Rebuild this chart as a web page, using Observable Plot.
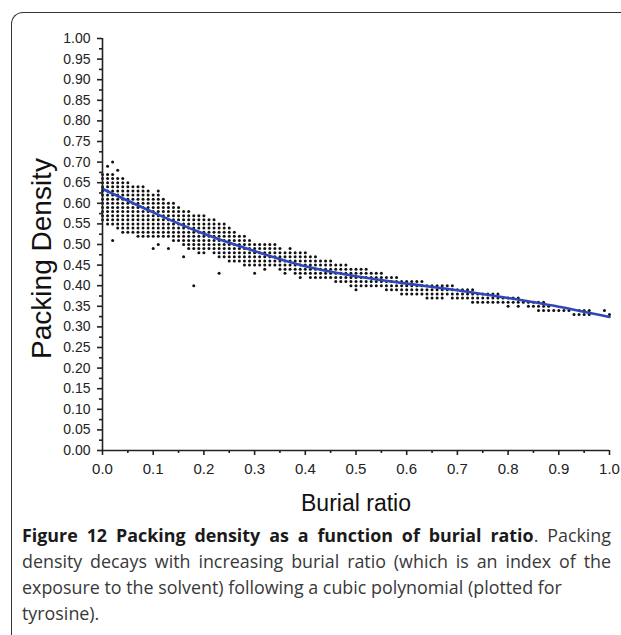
<!DOCTYPE html>
<html>
<head>
<meta charset="utf-8">
<script src="https://cdn.jsdelivr.net/npm/d3@7"></script>
<script src="https://cdn.jsdelivr.net/npm/@observablehq/plot@0.6"></script>
<style>
  html, body { margin: 0; padding: 0; background: #fff; }
  body { width: 621px; height: 635px; position: relative; overflow: hidden; }
  #frame { position: absolute; left: 11px; top: 12px; width: 640px; height: 660px;
           border-top: 1.6px solid #333; border-left: 1.6px solid #333; border-top-left-radius: 12px; }
  #chart { position: absolute; left: 0; top: 0; }
  #caption { position: absolute; left: 22px; top: 522px; font-family: "Open Sans", sans-serif; color: #383838; }
  #caption div { line-height: 26px; white-space: nowrap; }
  #caption b { color: #1a1a1a; }
</style>
</head>
<body>
<div id="frame"></div>
<div id="chart"></div>
<div id="caption">
  <div class="ln"><b>Figure 12 Packing density as a function of burial ratio</b>. Packing</div>
  <div class="ln">density decays with increasing burial ratio (which is an index of the</div>
  <div class="ln">exposure to the solvent) following a cubic polynomial (plotted for</div>
  <div class="ln">tyrosine).</div>
</div>
<script>
// Burial ratio columns (x) and the top / bottom packing density read for each column
const colX = [0.00,0.01,0.02,0.03,0.04,0.05,0.06,0.07,0.08,0.09,
  0.10,0.11,0.12,0.13,0.14,0.15,0.16,0.17,0.18,0.19,
  0.20,0.21,0.22,0.23,0.24,0.25,0.26,0.27,0.28,0.29,
  0.30,0.31,0.32,0.33,0.34,0.35,0.36,0.37,0.38,0.39,
  0.40,0.41,0.42,0.43,0.44,0.45,0.46,0.47,0.48,0.49,
  0.50,0.51,0.52,0.53,0.54,0.55,0.56,0.57,0.58,0.59,
  0.60,0.61,0.62,0.63,0.64,0.65,0.66,0.67,0.68,0.69,
  0.70,0.71,0.72,0.73,0.74,0.75,0.76,0.77,0.78,0.79,
  0.80,0.81,0.82,0.83,0.84,0.85,0.86,0.87,0.88,0.89,
  0.90,0.91,0.92,0.93,0.94,0.95,0.96,0.97,0.98,0.99,1.00];
const colTop = [0.67,0.67,0.67,0.66,0.66,0.65,0.64,0.64,0.64,0.63,
  0.62,0.62,0.61,0.60,0.60,0.59,0.58,0.58,0.57,0.57,
  0.57,0.56,0.56,0.55,0.55,0.54,0.53,0.52,0.52,0.51,
  0.50,0.50,0.50,0.50,0.50,0.49,0.48,0.49,0.48,0.48,
  0.48,0.47,0.47,0.46,0.46,0.46,0.45,0.45,0.45,0.44,
  0.44,0.44,0.44,0.43,0.43,0.43,0.42,0.42,0.42,0.41,
  0.41,0.41,0.41,0.41,0.40,0.40,0.40,0.40,0.40,0.40,
  0.39,0.39,0.39,0.39,0.38,0.38,0.38,0.38,0.38,0.37,
  0.37,0.37,0.37,0.36,0.36,0.36,0.36,0.36,0.35,0.34,
  0.34,0.34,0.34,0.33,0.34,0.34,0.34,null,null,0.34,0.33];
const colBottom = [0.56,0.55,0.55,0.54,0.53,0.53,0.53,0.52,0.52,0.52,
  0.52,0.52,0.52,0.52,0.51,0.51,0.50,0.49,0.49,0.48,
  0.48,0.49,0.48,0.47,0.47,0.46,0.46,0.46,0.45,0.45,
  0.45,0.45,0.44,0.45,0.45,0.44,0.43,0.44,0.43,0.42,
  0.43,0.42,0.42,0.42,0.42,0.42,0.41,0.41,0.41,0.40,
  0.40,0.40,0.40,0.40,0.40,0.40,0.39,0.39,0.39,0.38,
  0.38,0.38,0.38,0.38,0.38,0.37,0.37,0.37,0.38,0.37,
  0.37,0.37,0.37,0.36,0.36,0.36,0.36,0.36,0.36,0.36,
  0.35,0.36,0.35,0.36,0.35,0.35,0.34,0.34,0.34,0.34,
  0.34,0.34,0.34,0.33,0.33,0.33,0.33,null,null,0.34,0.33];
// isolated points
const outX = [0.01,0.02,0.03,0.02,0.10,0.11,0.11,0.13,0.16,0.18,0.23,0.30,0.50,0.64];
const outY = [0.69,0.70,0.68,0.51,0.49,0.50,0.63,0.49,0.47,0.40,0.43,0.43,0.39,0.37];
// fitted cubic curve
const fitX = [0.0,0.1,0.2,0.3,0.4,0.5,0.6,0.7,0.8,0.9,1.0];
const fitY = [0.635,0.578,0.526,0.484,0.447,0.423,0.405,0.389,0.370,0.349,0.324];
// axis ticks
const xTicks = [0.0,0.1,0.2,0.3,0.4,0.5,0.6,0.7,0.8,0.9,1.0];
const xMinor = [0.05,0.15,0.25,0.35,0.45,0.55,0.65,0.75,0.85,0.95];
const yTicks = [0.00,0.05,0.10,0.15,0.20,0.25,0.30,0.35,0.40,0.45,0.50,0.55,0.60,0.65,0.70,0.75,0.80,0.85,0.90,0.95,1.00];
const yMinor = [0.025,0.075,0.125,0.175,0.225,0.275,0.325,0.375,0.425,0.475,0.525,0.575,0.625,0.675,0.725,0.775,0.825,0.875,0.925,0.975];

// build point table: each column is a lattice of 0.01 steps between bottom and top
const points = [];
colX.forEach((x, i) => {
  const t = colTop[i], b = colBottom[i];
  if (t == null) return;
  for (let k = Math.round(b * 100); k <= Math.round(t * 100); k++) points.push({x, y: k / 100});
});
outX.forEach((x, i) => points.push({x, y: outY[i]}));
const fit = fitX.map((x, i) => ({x, y: fitY[i]}));

const chart = Plot.plot({
  width: 621,
  height: 525,
  marginLeft: 102,
  marginRight: 12,
  marginTop: 38,
  marginBottom: 75,
  style: {fontFamily: "'Liberation Sans', Arial, sans-serif", color: "#222", background: "transparent", overflow: "visible"},
  x: {domain: [0, 1]},
  y: {domain: [0, 1]},
  marks: [
    Plot.dot(points, {x: "x", y: "y", r: 1.5, fill: "#111", stroke: "none"}),
    Plot.line(fit, {x: "x", y: "y", stroke: "#2f47b8", strokeWidth: 2.6, curve: "natural"}),
    Plot.axisX(xTicks, {tickSize: 5, tickPadding: 8, fontSize: 15, strokeWidth: 1.6, tickFormat: d => d.toFixed(1), label: null}),
    Plot.axisX(xMinor, {tickSize: 3, strokeWidth: 1.6, text: null, label: null}),
    Plot.axisY(yTicks, {tickSize: 5, tickPadding: 7, fontSize: 14, strokeWidth: 1.6, tickFormat: d => d.toFixed(2), label: null}),
    Plot.axisY(yMinor, {tickSize: 3, strokeWidth: 1.6, text: null, label: null}),
    Plot.ruleY([0], {stroke: "#222", strokeWidth: 1.6}),
    Plot.ruleX([0], {y1: 0, y2: 1, stroke: "#222", strokeWidth: 1.6}),
    Plot.text(["Packing Density"], {text: d => d, frameAnchor: "left", dx: -60, dy: 14, rotate: -90, textAnchor: "middle", lineAnchor: "middle", fontSize: 28, fill: "#111"}),
    Plot.text(["Burial ratio"], {text: d => d, frameAnchor: "bottom", dy: 53, textAnchor: "middle", lineAnchor: "middle", fontSize: 23, fill: "#111"})
  ]
});
document.getElementById("chart").appendChild(chart);

// caption: size from the third (unjustified) line, then justify lines 1 and 2
const cap = document.getElementById("caption");
const lines = cap.querySelectorAll(".ln");
const wrapLine = el => {
  const sp = document.createElement("span");
  sp.style.whiteSpace = "nowrap";
  sp.innerHTML = el.innerHTML;
  el.innerHTML = "";
  el.appendChild(sp);
  return sp;
};
const spans = Array.from(lines).map(wrapLine);
cap.style.fontSize = "18px";
const w3 = spans[2].getBoundingClientRect().width;
const fs = 18 * 540 / w3;
cap.style.fontSize = fs.toFixed(2) + "px";
const target = 589;
[0, 1].forEach(i => {
  const sp = spans[i];
  const ww = sp.getBoundingClientRect().width;
  const gaps = (sp.textContent.match(/ /g) || []).length;
  if (gaps > 0 && ww < target) sp.style.wordSpacing = ((target - ww) / gaps).toFixed(2) + "px";
});
</script>
</body>
</html>
